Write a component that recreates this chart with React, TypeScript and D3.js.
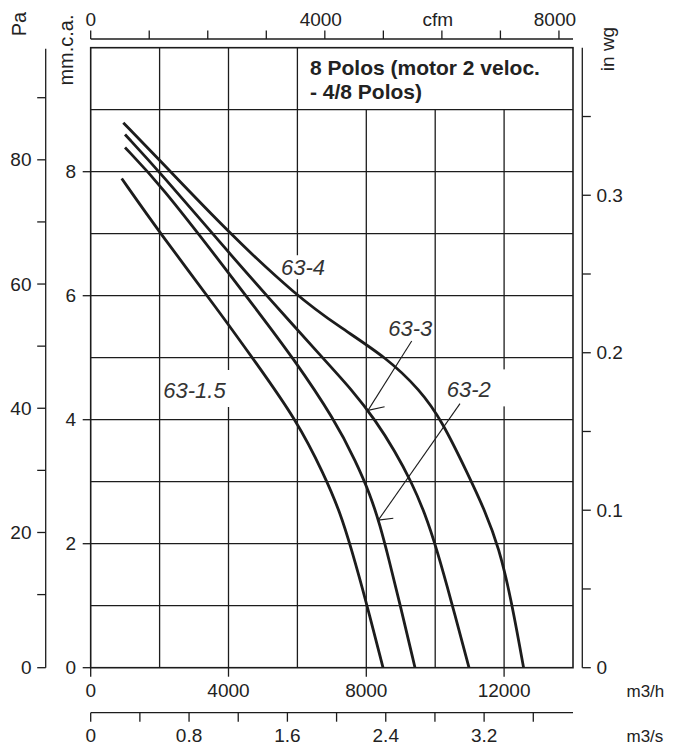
import React from 'react';
import * as d3 from 'd3';

// ---------- data ----------
const seriesNames = ['63-4', '63-3', '63-2', '63-1.5'];
// flow in m3/h, pressure in mm.c.a.
const flow63_4 = [946, 2012, 4015, 5988, 7237, 8592, 9559, 10189, 10952, 11446, 11852, 12200, 12566];
const pres63_4 = [8.79, 8.18, 7.01, 5.99, 5.49, 5.0, 4.48, 3.99, 3.12, 2.53, 1.93, 1.12, 0];
const flow63_3 = [996, 2012, 4000, 5109, 6743, 7585, 8282, 8833, 9298, 9704, 10052, 10459, 10981];
const pres63_3 = [8.6, 7.99, 6.7, 6.0, 4.99, 4.48, 3.98, 3.49, 3.01, 2.49, 1.9, 1.09, 0];
const flow63_2 = [996, 2012, 4015, 4819, 5872, 7091, 7701, 8108, 8398, 8659, 8949, 9414];
const pres63_2 = [8.39, 7.8, 6.36, 5.77, 5.0, 3.99, 3.32, 2.8, 2.3, 1.74, 1.09, 0];
const flow63_15 = [900, 2012, 3695, 4769, 5980, 6772, 7237, 7576, 7983, 8485];
const pres63_15 = [7.89, 7.01, 5.77, 4.94, 3.99, 3.12, 2.51, 1.9, 1.09, 0];

// curve labels (anchor = left end of text baseline, in data units)
const labelFlow = [5524, 8639, 10334, 2107];
const labelPres = [6.33, 5.35, 4.36, 4.35];
const labelBox = [true, false, true, true];

// leader arrows for 63-3 and 63-2
const leaderFromFlow = [9318, 10720];
const leaderFromPres = [5.27, 4.26];
const leaderToFlow = [8049, 8348];
const leaderToPres = [4.15, 2.38];
const barbFlow = [8531, 8784];
const barbPres = [4.21, 2.41];

// axes
const flowGrid = [2000, 4000, 6000, 8000, 10000, 12000];
const flowLabels = [0, 4000, 8000, 12000];
const mmGrid = [1, 2, 3, 4, 5, 6, 7, 8, 9];
const mmLabels = [0, 2, 4, 6, 8];
const paTicks = [0, 10, 20, 30, 40, 50, 60, 70, 80, 90];
const paLabels = [0, 20, 40, 60, 80];
const inwgTicks = [0, 0.05, 0.1, 0.15, 0.2, 0.25, 0.3, 0.35];
const inwgLabels = ['0', '0.1', '0.2', '0.3'];
const cfmTicks = [0, 1000, 2000, 3000, 4000, 5000, 6000, 7000, 8000];
const cfmLabels = ['0', '', '', '', '4000', '', 'cfm', '', '8000'];
const m3sTicks = [0, 0.4, 0.8, 1.2, 1.6, 2.0, 2.4, 2.8, 3.2, 3.6];
const m3sLabels = ['0', '0.8', '1.6', '2.4', '3.2'];

const titleLines = ['8 Polos (motor 2 veloc.', '- 4/8 Polos)'];

const W = 674;
const H = 749;
const FONT = 'Liberation Sans, Arial, Helvetica, sans-serif';
const INK = '#1c1c1c';

export default function App() {
  const L = 90.7, R = 573, T = 47.7, B = 667.7;
  const x = d3.scaleLinear().domain([0, 14000]).range([L, R]);
  const y = d3.scaleLinear().domain([0, 10]).range([B, T]);
  const xs = d3.scaleLinear().domain([0, 3.923]).range([L, R]);
  const xc = d3.scaleLinear().domain([0, 8240]).range([L, R]);
  const yPa = d3.scaleLinear().domain([0, 10, 90]).range([B, 594.6, 97.7]);
  const yIn = d3.scaleLinear().domain([0, 0.3937]).range([B, T]);

  const paAxisX = 45.7;
  const inAxisX = 582.3;
  const cfmAxisY = 39;
  const m3sAxisY = 712.7;

  const flows = [flow63_4, flow63_3, flow63_2, flow63_15];
  const press = [pres63_4, pres63_3, pres63_2, pres63_15];
  const line = d3
    .line<[number, number]>()
    .x((d) => x(d[0]))
    .y((d) => y(d[1]))
    .curve(d3.curveBasis);

  const tickFs = 19;

  return (
    <svg
      width={W}
      height={H}
      viewBox={`0 0 ${W} ${H}`}
      style={{ position: 'absolute', left: 0, top: 0, background: '#fff' }}
      fontFamily={FONT}
    >
      <rect x={0} y={0} width={W} height={H} fill="#fff" />

      {/* horizontal grid */}
      {mmGrid.map((v) => (
        <line key={'h' + v} x1={L} x2={R} y1={y(v)} y2={y(v)} stroke={INK} strokeWidth={1.3} />
      ))}
      {/* vertical grid */}
      {flowGrid.map((v) => (
        <line key={'v' + v} x1={x(v)} x2={x(v)} y1={v > 6000 ? y(9) : T} y2={B} stroke={INK} strokeWidth={1.3} />
      ))}

      {/* label boxes */}
      {seriesNames.map((n, i) =>
        labelBox[i] ? (
          <rect
            key={'lb' + n}
            x={x(labelFlow[i]) - 1}
            y={i === 0 ? y(labelPres[i]) - 20 : y(labelPres[i]) - 28}
            width={i === 3 ? 80 : i === 0 ? 48 : 64}
            height={i === 0 ? 24 : 37}
            fill="#fff"
          />
        ) : null
      )}

      {/* frame */}
      <rect x={L} y={T} width={R - L} height={B - T} fill="none" stroke={INK} strokeWidth={1.6} />

      {/* curves */}
      {flows.map((f, i) => (
        <path
          key={'c' + i}
          d={line(f.map((fv, j) => [fv, press[i][j]] as [number, number])) || ''}
          fill="none"
          stroke={INK}
          strokeWidth={2.8}
          strokeLinejoin="round"
        />
      ))}

      {/* leaders */}
      {leaderFromFlow.map((_, i) => (
        <g key={'ld' + i} stroke={INK} strokeWidth={1.1} fill="none">
          <line x1={x(leaderFromFlow[i])} y1={y(leaderFromPres[i])} x2={x(leaderToFlow[i])} y2={y(leaderToPres[i])} />
          <line x1={x(leaderToFlow[i])} y1={y(leaderToPres[i])} x2={x(barbFlow[i])} y2={y(barbPres[i])} />
        </g>
      ))}

      {/* curve labels */}
      {seriesNames.map((n, i) => (
        <text
          key={'lt' + n}
          x={x(labelFlow[i])}
          y={y(labelPres[i])}
          fontSize={22}
          fontStyle="italic"
          fill="#333"
        >
          {n}
        </text>
      ))}

      {/* title */}
      {titleLines.map((t, i) => (
        <text key={'t' + i} x={310} y={75 + i * 24} fontSize={21} fontWeight="bold" fill="#222">
          {t}
        </text>
      ))}

      {/* left mm ticks and labels */}
      {mmLabels.map((v) => (
        <g key={'mm' + v}>
          <line x1={L - 8} x2={L} y1={y(v)} y2={y(v)} stroke={INK} strokeWidth={1.3} />
          <text x={76} y={y(v)} dy="0.35em" textAnchor="end" fontSize={tickFs} fill="#222">
            {v}
          </text>
        </g>
      ))}
      <text transform={`translate(73,50) rotate(-90)`} textAnchor="middle" fontSize={20} fill="#222">
        mm.c.a.
      </text>

      {/* Pa axis */}
      <line x1={paAxisX} x2={paAxisX} y1={T + 1} y2={B} stroke={INK} strokeWidth={1.3} />
      {paTicks.map((v) => (
        <line key={'pa' + v} x1={paAxisX - 8.5} x2={paAxisX} y1={yPa(v)} y2={yPa(v)} stroke={INK} strokeWidth={1.3} />
      ))}
      {paLabels.map((v) => (
        <text key={'pal' + v} x={31.5} y={yPa(v)} dy="0.35em" textAnchor="end" fontSize={tickFs} fill="#222">
          {v}
        </text>
      ))}
      <text transform={`translate(26,24) rotate(-90)`} textAnchor="middle" fontSize={20} fill="#222">
        Pa
      </text>

      {/* in wg axis */}
      <line x1={inAxisX} x2={inAxisX} y1={T} y2={B} stroke={INK} strokeWidth={1.3} />
      {inwgTicks.map((v) => (
        <line key={'iw' + v} x1={inAxisX} x2={inAxisX + 8.5} y1={yIn(v)} y2={yIn(v)} stroke={INK} strokeWidth={1.3} />
      ))}
      {inwgLabels.map((v) => (
        <text key={'iwl' + v} x={596.5} y={yIn(+v)} dy="0.35em" textAnchor="start" fontSize={tickFs} fill="#222">
          {v}
        </text>
      ))}
      <text transform={`translate(614,49) rotate(-90)`} textAnchor="middle" fontSize={19} fill="#222">
        in wg
      </text>

      {/* bottom m3/h axis */}
      {flowLabels.map((v) => (
        <g key={'fx' + v}>
          <line x1={x(v)} x2={x(v)} y1={B} y2={B + 9} stroke={INK} strokeWidth={1.3} />
          <text x={x(v)} y={697} textAnchor="middle" fontSize={tickFs} fill="#222">
            {v}
          </text>
        </g>
      ))}
      <text x={626.5} y={697} fontSize={17} fill="#222">
        m3/h
      </text>

      {/* m3/s axis */}
      <line x1={L} x2={R} y1={m3sAxisY} y2={m3sAxisY} stroke={INK} strokeWidth={1.3} />
      {m3sTicks.map((v) => (
        <line key={'ms' + v} x1={xs(v)} x2={xs(v)} y1={m3sAxisY} y2={m3sAxisY + 9} stroke={INK} strokeWidth={1.3} />
      ))}
      {m3sLabels.map((v) => (
        <text key={'msl' + v} x={xs(+v)} y={742} textAnchor="middle" fontSize={tickFs} fill="#222">
          {v}
        </text>
      ))}
      <text x={626.5} y={742} fontSize={17} fill="#222">
        m3/s
      </text>

      {/* cfm axis */}
      <line x1={L} x2={R} y1={cfmAxisY} y2={cfmAxisY} stroke={INK} strokeWidth={1.3} />
      {cfmTicks.map((v, i) => (
        <g key={'cf' + v}>
          <line x1={xc(v)} x2={xc(v)} y1={cfmAxisY} y2={cfmAxisY - 8.5} stroke={INK} strokeWidth={1.3} />
          {cfmLabels[i] ? (
            <text x={xc(v) - (i > 0 ? 4 : 0)} y={26} textAnchor="middle" fontSize={tickFs} fill="#222">
              {cfmLabels[i]}
            </text>
          ) : null}
        </g>
      ))}
    </svg>
  );
}
